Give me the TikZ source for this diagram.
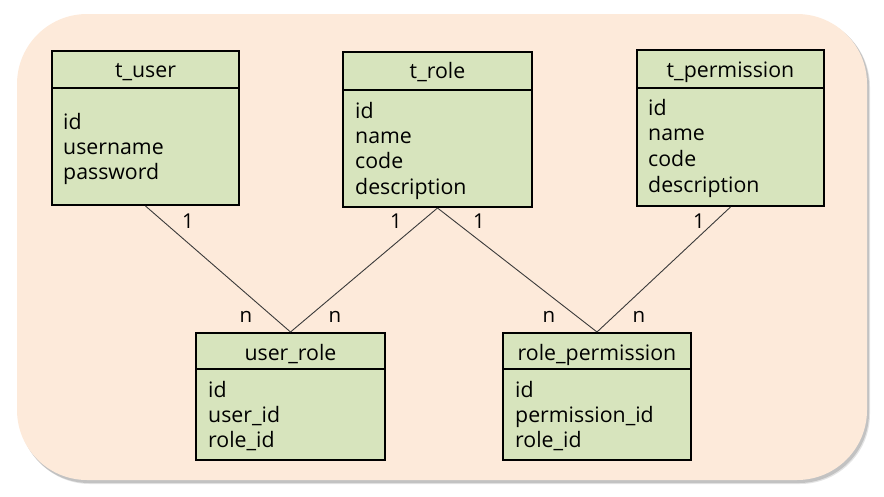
\documentclass[tikz,border=0pt]{standalone}
\usepackage{fontspec}
\setmainfont{Open Sans}
\definecolor{bgpeach}{HTML}{FDEADA}
\definecolor{tblgreen}{HTML}{D7E4BD}
\definecolor{linegray}{HTML}{3A3A3A}
\tikzset{
  tbl/.style={draw=black, line width=2pt, fill=tblgreen, inner sep=0pt},
  divider/.style={draw=black, line width=2pt},
  title/.style={anchor=base, inner sep=0pt, font=\fontsize{21.3}{25}\selectfont},
  field/.style={anchor=base west, inner sep=0pt, font=\fontsize{21.3}{25}\selectfont},
  card/.style={inner sep=0pt, font=\fontsize{20.5}{24}\selectfont},
  rel/.style={draw=linegray, line width=0.9pt}
}
\begin{document}
\begin{tikzpicture}[x=1pt,y=-1pt]
\useasboundingbox (0,0) rectangle (884,496);
% background panel with soft shadow
\fill[black!30, opacity=0.35, rounded corners=70pt] (20,17) rectangle (870,484);
\fill[black!40, opacity=0.45, rounded corners=70pt] (19,16) rectangle (869,483);
\fill[bgpeach, rounded corners=70pt] (17,14) rectangle (867,480);

% tables
\node[tbl, minimum width=187pt, minimum height=154pt] (tuser) at (145.5,128) {};
\node[tbl, minimum width=189pt, minimum height=155pt] (trole) at (437.5,129.5) {};
\node[tbl, minimum width=187pt, minimum height=156pt] (tperm) at (730.5,128) {};
\node[tbl, minimum width=189pt, minimum height=127pt] (urole) at (290.5,396.5) {};
\node[tbl, minimum width=188pt, minimum height=127pt] (rperm) at (597,396.5) {};

\draw[divider] (tuser.west |- 0,88) -- (tuser.east |- 0,88);
\draw[divider, line width=2.6pt] (trole.west |- 0,90) -- (trole.east |- 0,90);
\draw[divider] (tperm.west |- 0,88) -- (tperm.east |- 0,88);
\draw[divider] (urole.west |- 0,369) -- (urole.east |- 0,369);
\draw[divider] (rperm.west |- 0,369) -- (rperm.east |- 0,369);

% titles
\node[title] (tuser-t) at (145.5,77) {t\_user};
\node[title] (trole-t) at (437.5,78) {t\_role};
\node[title] (tperm-t) at (730.5,77) {t\_permission};
\node[title] (urole-t) at (290.5,360) {user\_role};
\node[title] (rperm-t) at (597,360) {role\_permission};

% fields
\node[field] (tuser-f1) at (63,129) {id};
\node[field] (tuser-f2) at (63,154) {username};
\node[field] (tuser-f3) at (63,179) {password};

\node[field] (trole-f1) at (355,118) {id};
\node[field] (trole-f2) at (355,143) {name};
\node[field] (trole-f3) at (355,168.5) {code};
\node[field] (trole-f4) at (355,194) {description};

\node[field] (tperm-f1) at (648,115) {id};
\node[field] (tperm-f2) at (648,140) {name};
\node[field] (tperm-f3) at (648,166) {code};
\node[field] (tperm-f4) at (648,192) {description};

\node[field] (urole-f1) at (208,397) {id};
\node[field] (urole-f2) at (208,422) {user\_id};
\node[field] (urole-f3) at (208,447) {role\_id};

\node[field] (rperm-f1) at (515,397) {id};
\node[field] (rperm-f2) at (515,422) {permission\_id};
\node[field] (rperm-f3) at (515,447) {role\_id};

% relations
\draw[rel] (tuser.south) -- (urole.north);
\draw[rel] (trole.south) -- (urole.north);
\draw[rel] (trole.south) -- (rperm.north);
\draw[rel] (tperm.south) -- (rperm.north);

% cardinalities
\node[card] (c1) at (188,221) {1};
\node[card] (c2) at (396,221) {1};
\node[card] (c3) at (479,221) {1};
\node[card] (c4) at (699,221) {1};
\node[card] (n1) at (246,317) {n};
\node[card] (n2) at (335,317) {n};
\node[card] (n3) at (549,317) {n};
\node[card] (n4) at (639,317) {n};
\end{tikzpicture}
\end{document}
